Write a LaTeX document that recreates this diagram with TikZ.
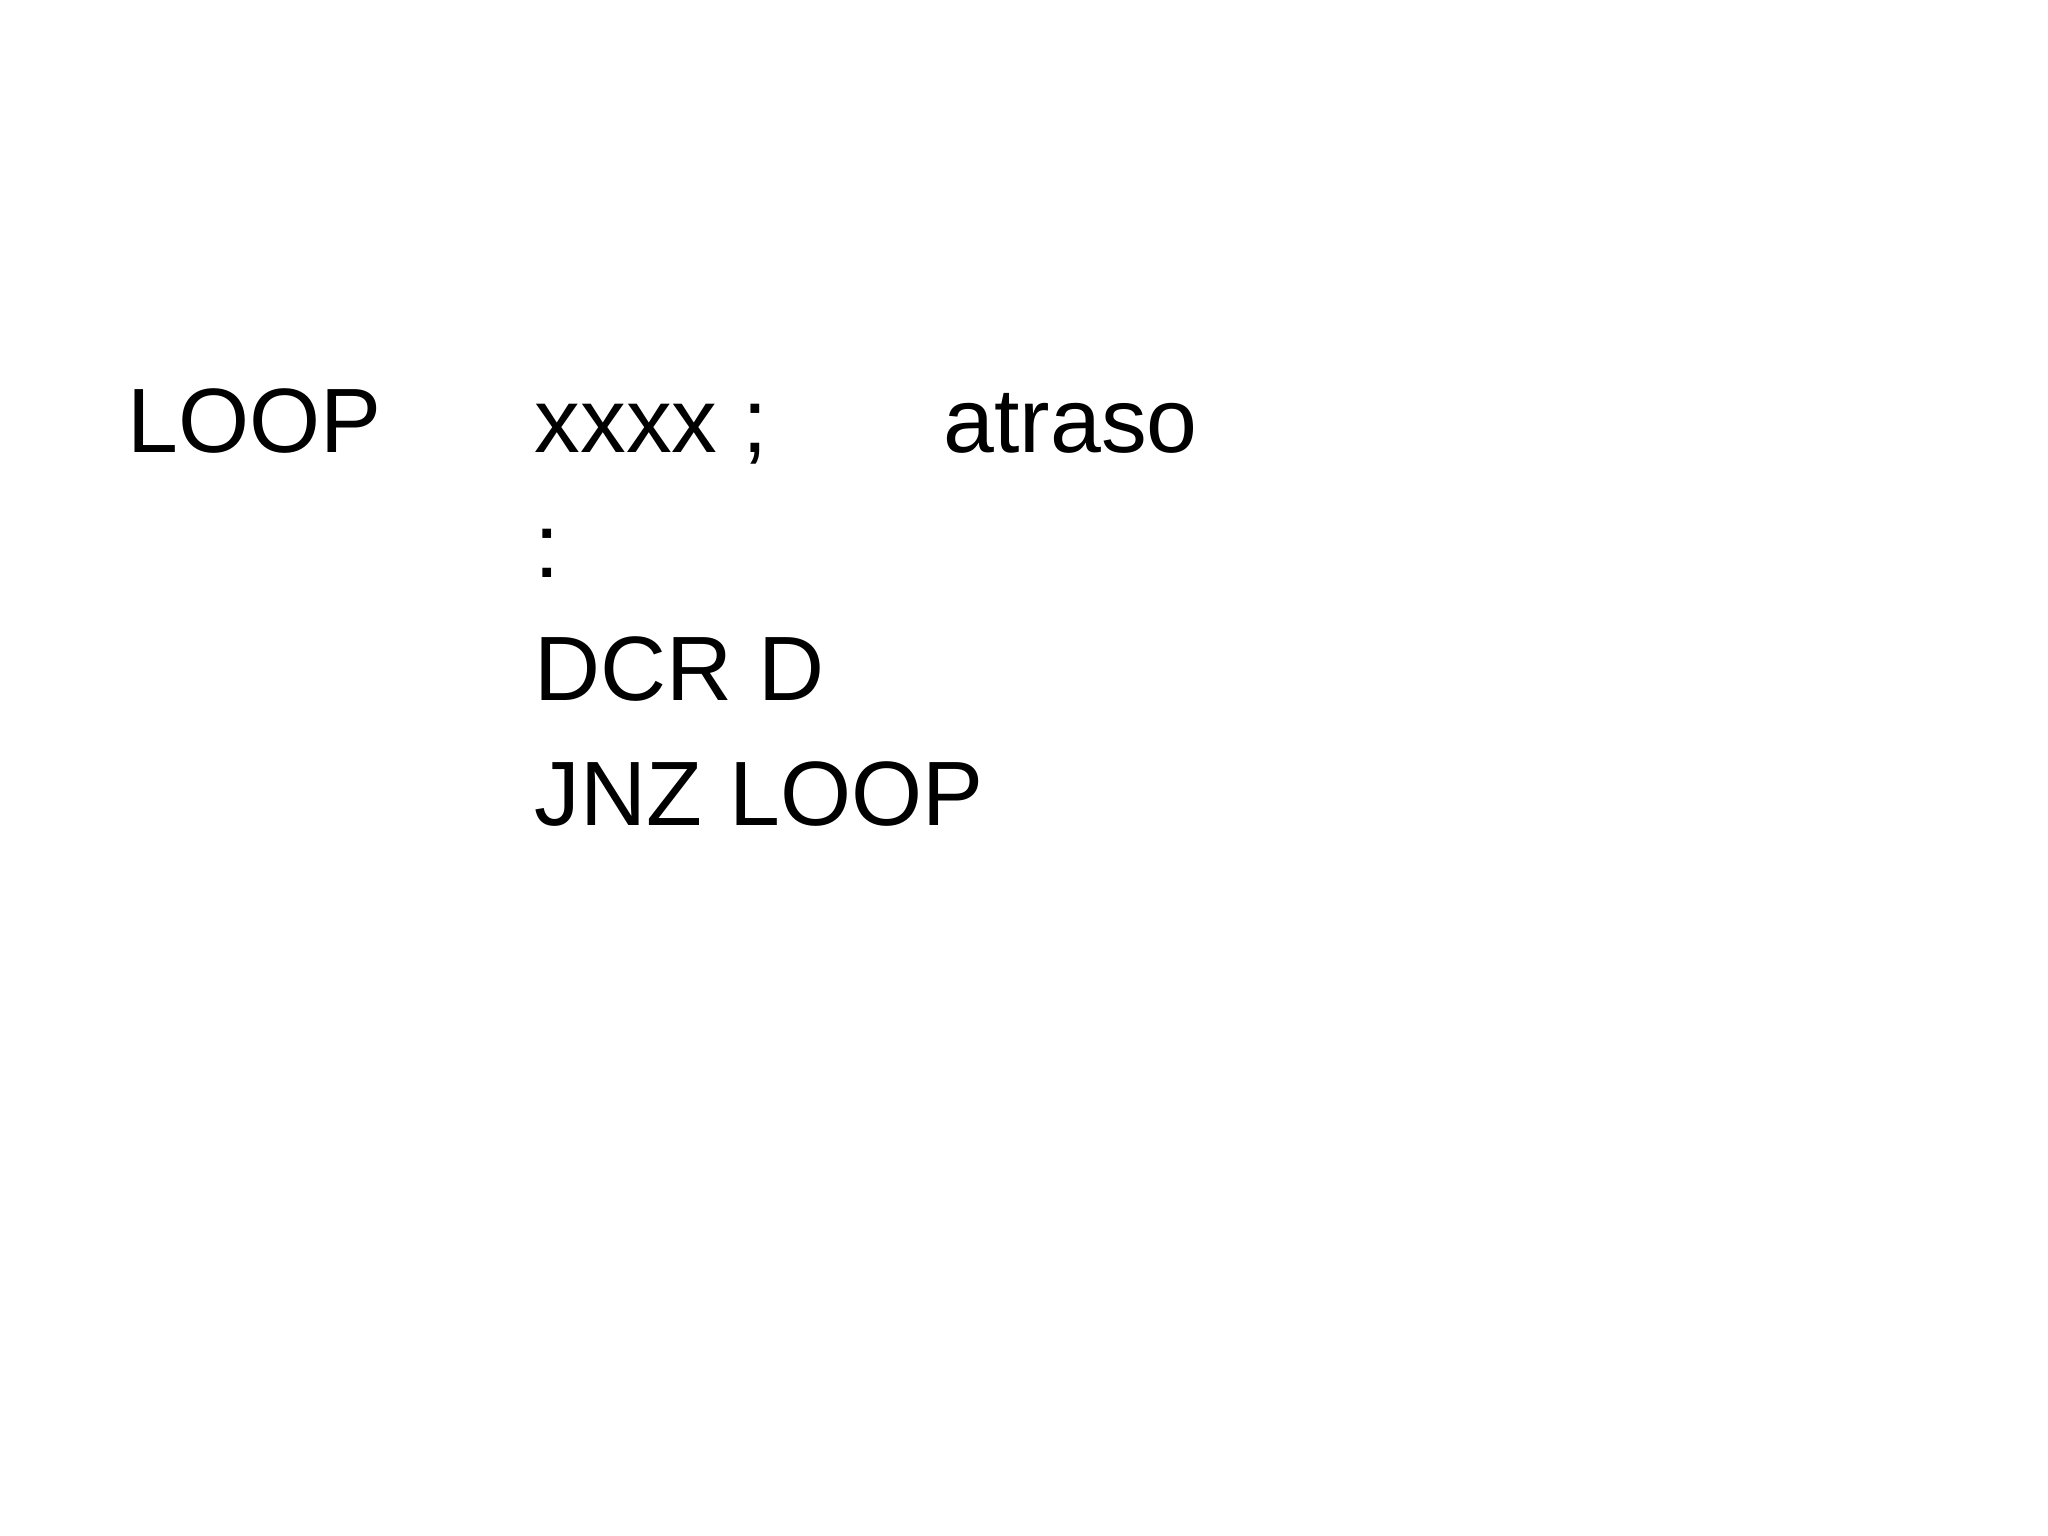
\documentclass[tikz,border=0pt]{standalone}
\usepackage{fontspec}
\setmainfont{Liberation Sans}
\begin{document}
\begin{tikzpicture}[x=0.01cm,y=-0.01cm,txt/.style={anchor=base west,inner sep=0pt,font=\fontsize{26}{30}\selectfont}]
\useasboundingbox (0,0) rectangle (2048,1536);
\node[txt] (l1) at (127,452) {LOOP};
\node[txt] (c1) at (534,452) {xxxx ;};
\node[txt] (a1) at (943,452) {atraso};
\node[txt] (c2) at (534,577) {:};
\node[txt] (c3) at (534,700) {DCR D};
\node[txt] (c4) at (534,825) {JNZ\hspace{0.3em}LOOP};
\end{tikzpicture}
\end{document}
